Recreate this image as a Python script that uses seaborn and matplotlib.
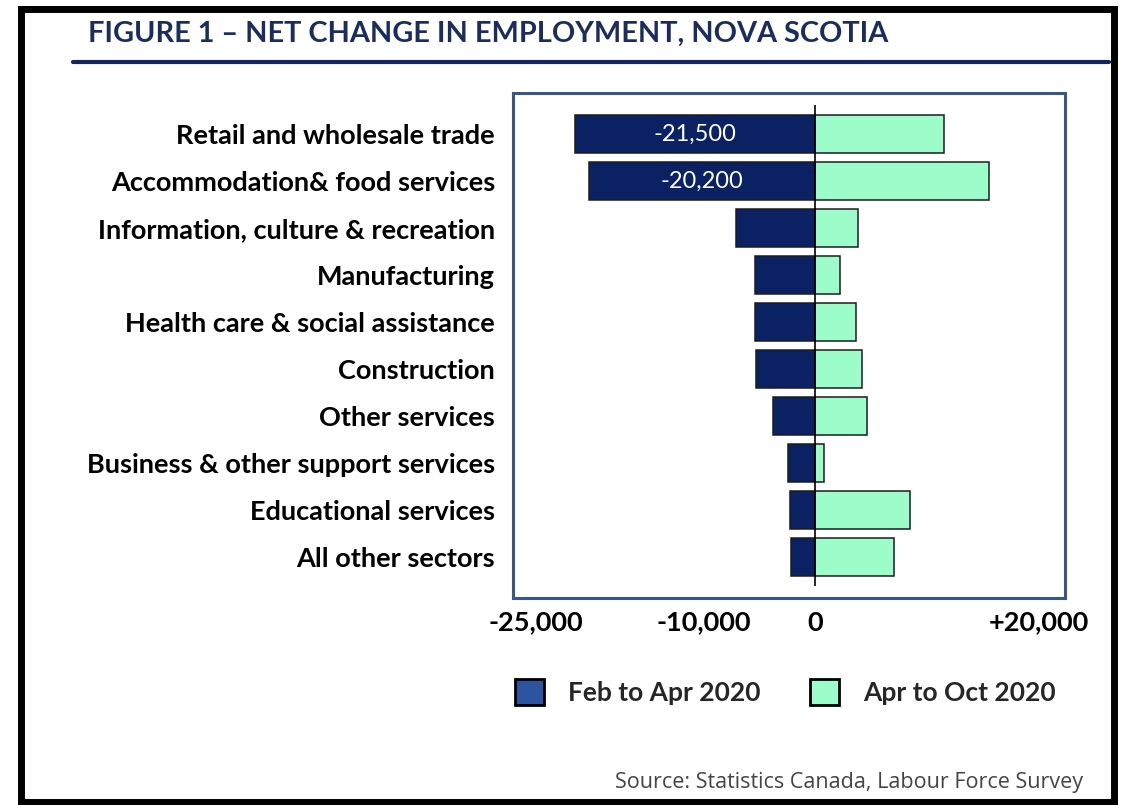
import pandas as pd
import matplotlib
matplotlib.use("Agg")
import matplotlib.pyplot as plt
import matplotlib.ticker as mticker
from matplotlib.patches import Patch, Rectangle
from matplotlib.lines import Line2D
import seaborn as sns

# ── Data ──────────────────────────────────────────────────────────────────────
SECTORS = [
    "Retail and wholesale trade",
    "Accommodation& food services",
    "Information, culture & recreation",
    "Manufacturing",
    "Health care & social assistance",
    "Construction",
    "Other services",
    "Business & other support services",
    "Educational services",
    "All other sectors",
]
FEB_APR = [-21500, -20200, -7100, -5400, -5400, -5300, -3800, -2400, -2300, -2200]
APR_OCT = [11500, 15500, 3800, 2200, 3600, 4200, 4600, 800, 8500, 7000]
PERIODS = ["Feb to Apr 2020", "Apr to Oct 2020"]
XTICKS = [-25000, -10000, 0, 20000]
LABELLED = 2  # only the two biggest losses carry a value label

NAVY = "#0a2163"
MINT = "#9cfdca"
FRAME = "#3a5689"

df = pd.DataFrame({
    "sector": SECTORS * 2,
    "period": [PERIODS[0]] * len(SECTORS) + [PERIODS[1]] * len(SECTORS),
    "change": FEB_APR + APR_OCT,
})

# ── Style ─────────────────────────────────────────────────────────────────────
sns.set_theme(style="white")
plt.rcParams["font.family"] = ["Lato", "DejaVu Sans"]

fig = plt.figure(figsize=(11.22, 8.05), dpi=100)
ax = fig.add_axes([0.4572, 0.2571, 0.492, 0.6274])

sns.barplot(data=df, y="sector", x="change", hue="period", orient="h",
            dodge=False, width=0.82, saturation=1,
            palette={PERIODS[0]: NAVY, PERIODS[1]: MINT},
            edgecolor="#1c1c1c", linewidth=1.1, legend=False, ax=ax)

# value labels on the two largest losses
labels = [f"{v:,.0f}" if i < LABELLED else "" for i, v in enumerate(FEB_APR)]
ax.bar_label(ax.containers[0], labels=labels, label_type="center",
             color="white", fontsize=17, padding=0)

ax.vlines(0, -0.62, len(SECTORS) - 0.38, color="black", linewidth=1.2, zorder=5)

ax.set_xlim(-27000, 22300)
ax.set_ylim(len(SECTORS) - 1 + 0.87, -0.87)
ax.set_xticks(XTICKS)
ax.xaxis.set_major_formatter(mticker.FuncFormatter(
    lambda x, _: f"+{x:,.0f}" if x > 0 else f"{x:,.0f}"))
ax.tick_params(axis="x", length=0, pad=9, labelsize=19.5, labelcolor="black")
ax.tick_params(axis="y", length=0, pad=13, labelsize=19.5, labelcolor="black")
for lab in ax.get_xticklabels() + ax.get_yticklabels():
    lab.set_fontweight("bold")
ax.set_xlabel("")
ax.set_ylabel("")
for sp in ax.spines.values():
    sp.set_visible(True)
    sp.set_color(FRAME)
    sp.set_linewidth(2.2)

# ── Title, rule, legend, source ──────────────────────────────────────────────
fig.text(0.078, 0.958, "FIGURE 1 – NET CHANGE IN EMPLOYMENT, NOVA SCOTIA",
         fontsize=20.8, fontweight="bold", color="#1b2d5e", va="center")
fig.add_artist(Line2D([0.065, 0.988], [0.923, 0.923], color="#13265e",
                      linewidth=3, transform=fig.transFigure))

handles = [Patch(facecolor="#2d54a0", edgecolor="black", linewidth=2),
           Patch(facecolor=MINT, edgecolor="black", linewidth=2)]
fig.legend(handles, PERIODS, loc="center", bbox_to_anchor=(0.70, 0.14),
           ncol=2, frameon=False, handlelength=1.1, handleheight=1.1,
           handletextpad=0.9, columnspacing=1.9,
           prop={"size": 19, "weight": "bold"})

fig.text(0.965, 0.028, "Source: Statistics Canada, Labour Force Survey",
         fontsize=15.5, color="#444444", ha="right", va="center",
         family=["Open Sans", "DejaVu Sans"])

# black frame around the whole figure
fig.add_artist(Rectangle((0.019, 0.004), 0.974, 0.985, fill=False,
                         edgecolor="black", linewidth=5,
                         transform=fig.transFigure))

fig.savefig("out.png", dpi=100)
